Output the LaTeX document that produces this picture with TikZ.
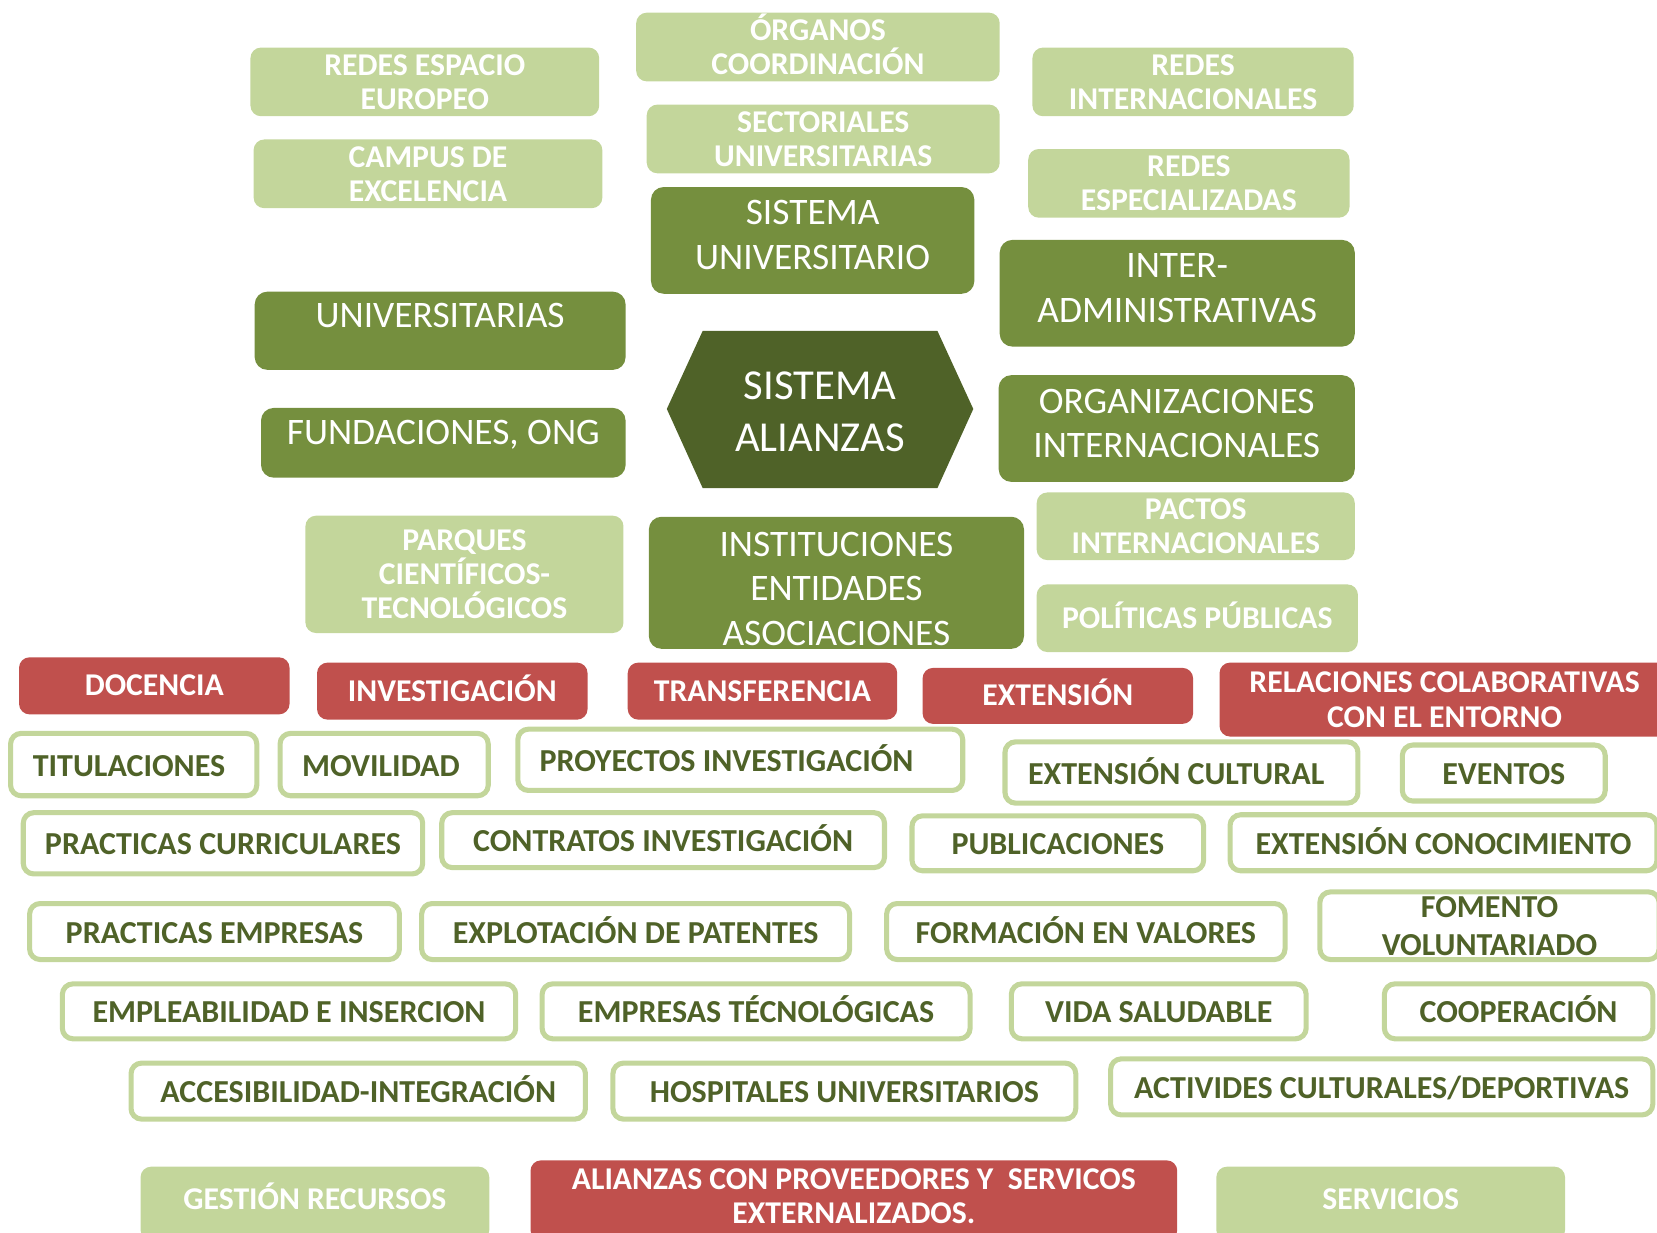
\documentclass[tikz,border=0pt]{standalone}
\usepackage{fontspec}
\setmainfont{Carlito}
\definecolor{lgc}{HTML}{C3D69B}
\definecolor{dgc}{HTML}{758F3E}
\definecolor{hxc}{HTML}{4F6228}
\definecolor{rdc}{HTML}{C0504D}
\definecolor{txc}{HTML}{4F6228}
\tikzset{
 every node/.style={inner sep=0pt, align=center},
 bx/.style n args={4}{at={({(#1+#3)/2},{(#2+#4)/2})}, minimum width={(#3-#1)*0.5pt}, minimum height={(#4-#2)*0.5pt}},
 lgt/.style={text=white, font=\fontsize{15}{16}\selectfont\bfseries},
 dgt/.style={text=white, font=\fontsize{17.7}{21}\selectfont},
 rdt/.style={text=white, font=\fontsize{15}{16.5}\selectfont\bfseries},
 wt/.style={text=txc, font=\fontsize{15.15}{18}\selectfont\bfseries},
 hxt/.style={text=white, font=\fontsize{20.2}{24.5}\selectfont},
 onel/.style={text height=9.5pt, text depth=0pt},
 onew/.style={text height=11pt, text depth=0pt},
 oned/.style={text height=11.2pt, text depth=0pt},
 lgbox/.style={fill=lgc, rounded corners=5pt, lgt},
 dgbox/.style={fill=dgc, rounded corners=6pt, dgt},
 rdbox/.style={fill=rdc, rounded corners=5pt, rdt},
 wbox/.style={draw=lgc, line width=2.4pt, fill=white, rounded corners=5pt, wt},
}
\begin{document}
\begin{tikzpicture}[x=0.5pt, y=-0.5pt]
\useasboundingbox (0,0) rectangle (1568,1166);
% light green top
\node[lgbox, bx={237}{45}{567}{110}] (redesesp) {REDES ESPACIO\\EUROPEO};
\node[lgbox, bx={602}{12}{946}{77}] (organos) {\smash{Ó}RGANOS\\COORDINACIÓN};
\node[lgbox, bx={977}{45}{1281}{110}] (redesint) {REDES\\INTERNACIONALES};
\node[lgbox, bx={612}{99}{946}{164}] (sectoriales) {SECTORIALES\\UNIVERSITARIAS};
\node[lgbox, bx={240}{132}{570}{197}] (campus) {CAMPUS DE\\EXCELENCIA};
\node[lgbox, bx={973}{141}{1277}{206}] (redesespec) {REDES\\ESPECIALIZADAS};
\node[lgbox, bx={289}{488}{590}{599}] (parques) {PARQUES\\CIENTÍFICOS-\\TECNOLÓGICOS};
\node[lgbox, bx={981}{466}{1282}{530}] (pactos) {PACTOS\\INTERNACIONALES};
\node[lgbox, onel, bx={981}{553}{1285}{617}] (politicas) {POLÍTICAS PÚBLICAS};
% dark green
\node[dgbox, bx={616}{177}{922}{278}] (sisuniv) {};
\node[dgt] (sisuniv-t) at ([yshift=2.5pt]sisuniv.center) {SISTEMA\\UNIVERSITARIO};
\node[dgbox, bx={946}{227}{1282}{328}] (inter) {};
\node[dgt] (inter-t) at ([yshift=2.5pt]inter.center) {INTER-\\ADMINISTRATIVAS};
\node[dgbox, bx={241}{276}{592}{350}] (univ) {};
\node[dgt, oned] (univ-t) at ([yshift=7pt]univ.center) {UNIVERSITARIAS};
\node[dgbox, bx={247}{386}{592}{452}] (fund) {};
\node[dgt, oned] (fund-t) at ([yshift=5pt]fund.center) {FUNDACIONES, ONG};
\node[dgbox, bx={945}{355}{1282}{456}] (orgint) {};
\node[dgt] (orgint-t) at ([yshift=2.5pt]orgint.center) {ORGANIZACIONES\\INTERNACIONALES};
\node[dgbox, bx={614}{489}{969}{614}] (inst) {};
\node[dgt] (inst-t) at ([yshift=-2.75pt]inst.center) {INSTITUCIONES\\ENTIDADES\\ASOCIACIONES};
% hexagon
\fill[hxc] (665,313) -- (887,313) -- (921,387) -- (887,462) -- (665,462) -- (631,387) -- cycle;
\node[hxt] (alianzas) at (776,390) {SISTEMA\\ALIANZAS};
% red
\node[rdbox, onel, bx={18}{622}{274}{676}] (docencia) {DOCENCIA};
\node[rdbox, onel, bx={300}{627}{556}{681}] (investig) {INVESTIGACIÓN};
\node[rdbox, onel, bx={594}{627}{849}{681}] (transfer) {TRANSFERENCIA};
\node[rdbox, onel, bx={873}{632}{1129}{685}] (extension) {EXTENSIÓN};
\node[rdbox, bx={1154}{627}{1580}{697}] (relaciones) {RELACIONES COLABORATIVAS\\CON EL ENTORNO};
% white boxes
\node[wbox, bx={10}{694}{243}{753}] (titul) {};
\node[wt, onew] (titul-t) at ([xshift=-2.2pt]titul.center) {TITULACIONES};
\node[wbox, bx={265}{694}{462}{753}] (movil) {};
\node[wt, onew] (movil-t) at ([xshift=-1.5pt]movil.center) {MOVILIDAD};
\node[wbox, bx={490}{690}{911}{748}] (proyectos) {};
\node[wt, onew] (proyectos-t) at ([xshift=-6.5pt]proyectos.center) {PROYECTOS INVESTIGACIÓN};
\node[wbox, bx={951}{702}{1285}{760}] (extcult) {};
\node[wt, onew] (extcult-t) at ([xshift=-2.5pt]extcult.center) {EXTENSIÓN CULTURAL};
\node[wbox, onew, bx={1327}{705}{1519}{758}] (eventos) {EVENTOS};
\node[wbox, onew, bx={22}{769}{400}{827}] (practcurr) {PRACTICAS CURRICULARES};
\node[wbox, onew, bx={418}{769}{837}{821}] (contratos) {CONTRATOS INVESTIGACIÓN};
\node[wbox, onew, bx={863}{772}{1139}{824}] (publicac) {PUBLICACIONES};
\node[wbox, onew, bx={1164}{771}{1568}{824}] (extconoc) {EXTENSIÓN CONOCIMIENTO};
\node[wbox, onew, bx={28}{855}{378}{908}] (practemp) {PRACTICAS EMPRESAS};
\node[wbox, onew, bx={399}{855}{804}{908}] (explot) {EXPLOTACIÓN DE PATENTES};
\node[wbox, onew, bx={839}{855}{1216}{908}] (formacion) {FORMACIÓN EN VALORES};
\node[wbox, bx={1249}{844}{1570}{908}] (fomento) {FOMENTO\\VOLUNTARIADO};
\node[wbox, onew, bx={59}{931}{488}{983}] (empleab) {EMPLEABILIDAD E INSERCION};
\node[wbox, onew, bx={513}{931}{918}{983}] (empresas) {EMPRESAS TÉCNOLÓGICAS};
\node[wbox, onew, bx={957}{931}{1236}{983}] (vida) {VIDA SALUDABLE};
\node[wbox, onew, bx={1310}{931}{1564}{983}] (cooper) {COOPERACIÓN};
\node[wbox, onew, bx={124}{1006}{554}{1059}] (accesib) {ACCESIBILIDAD-INTEGRACIÓN};
\node[wbox, onew, bx={580}{1006}{1018}{1059}] (hospit) {HOSPITALES UNIVERSITARIOS};
\node[wbox, onew, bx={1051}{1002}{1564}{1055}] (activ) {ACTIVIDES CULTURALES/DEPORTIVAS};
% bottom
\node[lgbox, bx={133}{1104}{463}{1174}] (gestion) {};
\node[lgt, onel] (gestion-t) at ([yshift=2pt]gestion.center) {GESTIÓN RECURSOS};
\node[rdbox, bx={502}{1098}{1114}{1174}] (provee) {};
\node[rdt] (provee-t) at ([yshift=2pt]provee.center) {ALIANZAS CON PROVEEDORES Y\ \ SERVICOS\\EXTERNALIZADOS.};
\node[lgbox, bx={1151}{1104}{1481}{1174}] (servicios) {};
\node[lgt, onel] (servicios-t) at ([yshift=2pt]servicios.center) {SERVICIOS};
\end{tikzpicture}
\end{document}
